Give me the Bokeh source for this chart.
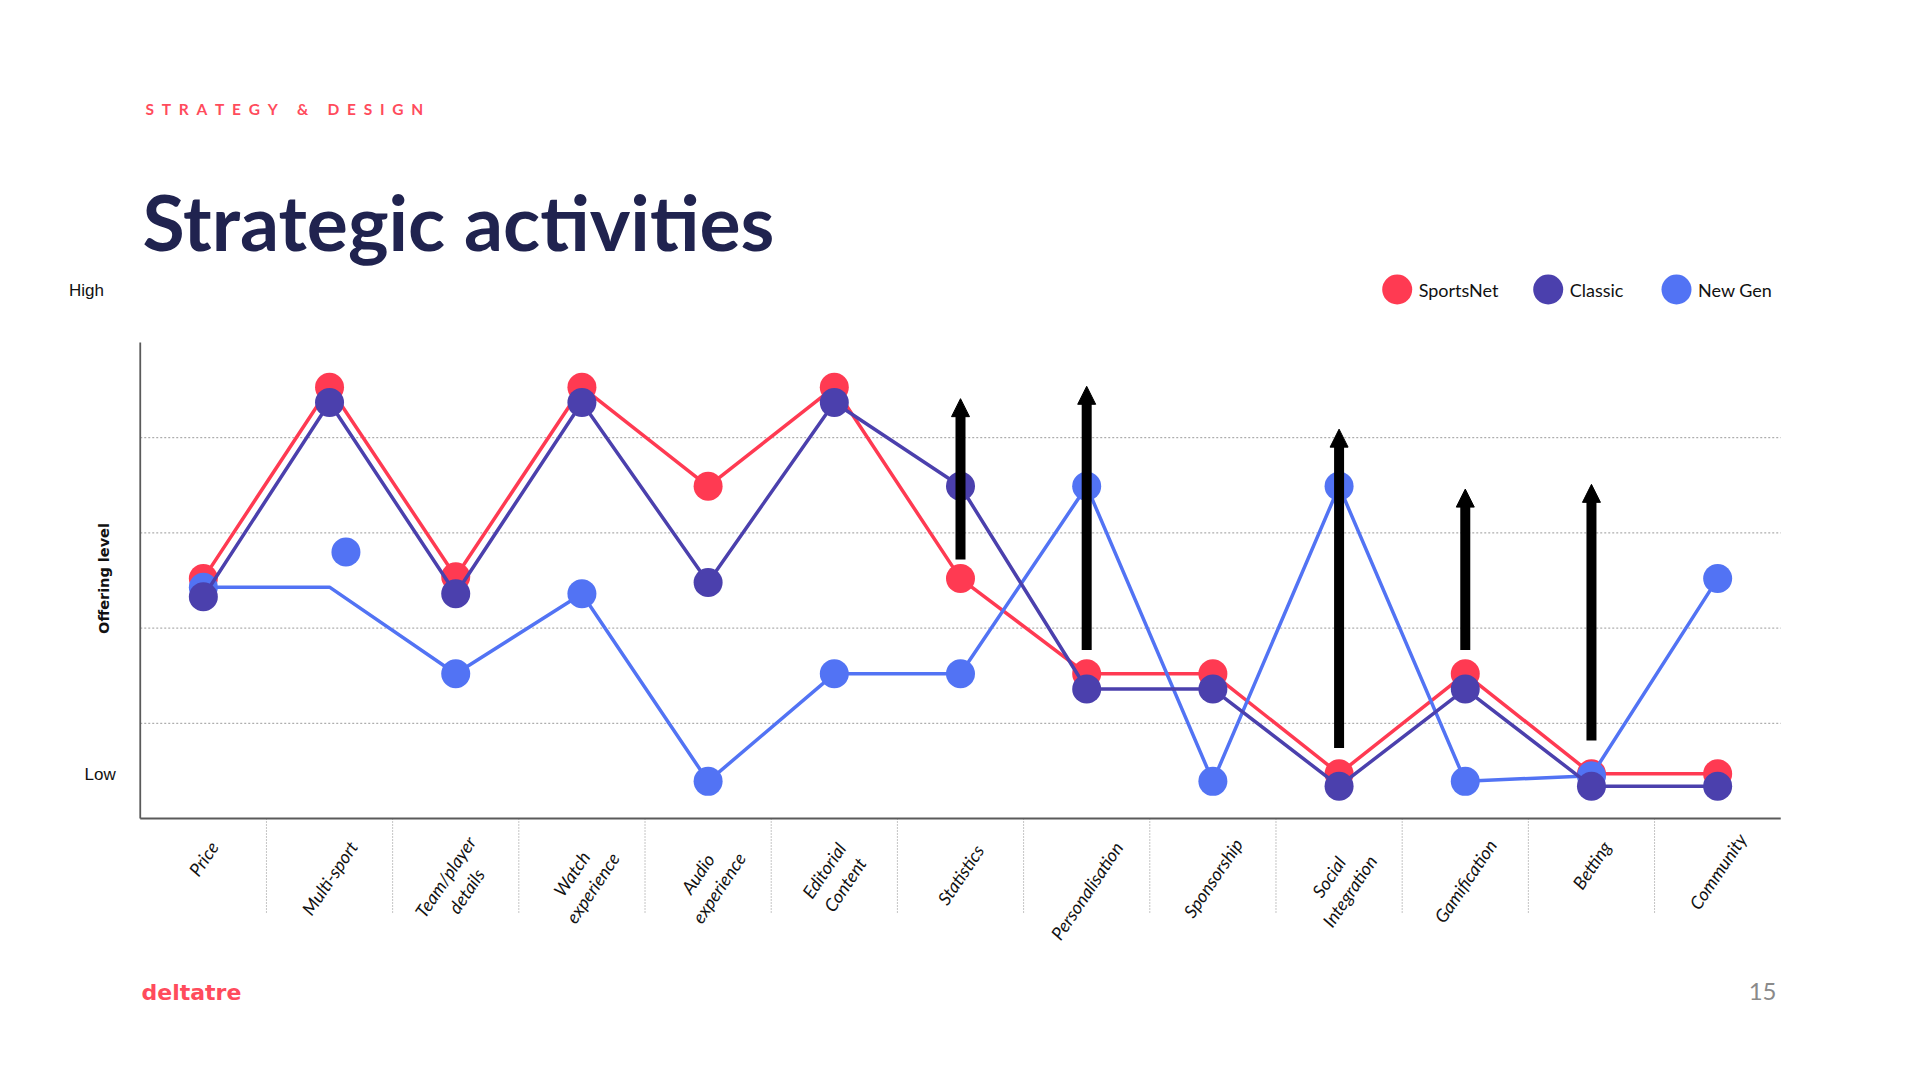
import math
from bokeh.plotting import figure
from bokeh.models import FactorRange, Range1d, Arrow, NormalHead, Grid
from bokeh.core.properties import value
from bokeh.embed import file_html
from bokeh.resources import INLINE

# ---------------- data ----------------
categories = ["Price", "Multi-sport", "Team/player details", "Watch experience",
              "Audio experience", "Editorial Content", "Statistics", "Personalisation",
              "Sponsorship", "Social Integration", "Gamification", "Betting", "Community"]
tick_labels = ["Price", "Multi-sport", "Team/player\ndetails", "Watch\nexperience",
               "Audio\nexperience", "Editorial\nContent", "Statistics", "Personalisation",
               "Sponsorship", "Social\nIntegration", "Gamification", "Betting", "Community"]

sportsnet = [2.52, 4.53, 2.54, 4.53, 3.49, 4.53, 2.52, 1.52, 1.52, 0.47, 1.52, 0.47, 0.47]
classic   = [2.33, 4.37, 2.36, 4.37, 2.48, 4.37, 3.49, 1.36, 1.36, 0.34, 1.36, 0.34, 0.34]
newgen    = [2.43, 2.43, 1.52, 2.36, 0.39, 1.52, 1.52, 3.49, 0.39, 3.49, 0.39, 0.45, 2.52]
newgen_no_marker = ["Multi-sport"]
newgen_extra_category = "Multi-sport"
newgen_extra_value = 2.80

arrow_categories = ["Statistics", "Personalisation", "Social Integration", "Gamification", "Betting"]
arrow_from = [2.72, 1.77, 0.74, 1.77, 0.82]
arrow_to   = [4.41, 4.54, 4.09, 3.46, 3.51]

series_names = ["SportsNet", "Classic", "New Gen"]
series_colors = ["#FF3A52", "#4B40AD", "#5273F4"]

y_low_label, y_high_label = "Low", "High"
y_title = "Offering level"
kicker = "STRATEGY & DESIGN"
title = "Strategic activities"
brand = "deltatre"
page_no = "15"

# ---------------- layout helpers ----------------
W, H = 1920, 1080
PAD = 1.1074                      # categorical padding (bands) each side
PXU = W / (len(categories) + 2 * PAD)
Y0_PX, PYU = 818.0, 95.2          # pixel row of level 0 and pixels per level


def sx(px):
    return px / PXU - PAD


def sy(py):
    return (Y0_PX - py) / PYU


FONT = value("Lato")

p = figure(width=W, height=H,
           x_range=FactorRange(factors=categories, range_padding=PAD, range_padding_units="absolute"),
           y_range=Range1d(sy(H), sy(0)),
           min_border=0, x_axis_location=None, y_axis_location=None,
           toolbar_location=None, output_backend="svg")
p.outline_line_color = None
p.background_fill_color = "white"
p.border_fill_color = "white"
for r in p.center:
    if isinstance(r, Grid):
        r.visible = False

n = len(categories)
# grid lines (dotted)
levels = [1, 2, 3, 4]
p.segment(x0=[0] * len(levels), x1=[n] * len(levels), y0=levels, y1=levels,
          line_color="#9a9a9a", line_width=1, line_dash="2 2")
# category separators below axis
seps = list(range(1, n))
p.segment(x0=seps, x1=seps, y0=[0] * len(seps), y1=[-1] * len(seps),
          line_color="#8a8a8a", line_width=1, line_dash="1 2")
# axis lines
p.segment(x0=[0, 0], x1=[0, n], y0=[0, 0], y1=[5, 0], line_color="#5a5a5a", line_width=1.8)

# series
SN, CL, NG = series_colors
p.line(categories, sportsnet, line_color=SN, line_width=3.5)
p.scatter(categories, sportsnet, size=29, fill_color=SN, line_color=None)

ng_x = [c for c in categories if c not in newgen_no_marker]
ng_y = [v for c, v in zip(categories, newgen) if c not in newgen_no_marker]
p.line(categories, newgen, line_color=NG, line_width=3.5)
p.scatter(ng_x, ng_y, size=29, fill_color=NG, line_color=None)
p.scatter([categories.index(newgen_extra_category) + 0.5 + 0.13], [newgen_extra_value],
          size=29, fill_color=NG, line_color=None)

p.line(categories, classic, line_color=CL, line_width=3.5)
p.scatter(categories, classic, size=29, fill_color=CL, line_color=None)

# arrows
head_len = 18 / PYU
ax = [categories.index(c) + 0.5 for c in arrow_categories]
p.segment(x0=ax, x1=ax, y0=arrow_from, y1=[t - head_len + 0.02 for t in arrow_to],
          line_color="black", line_width=10)
for x, t in zip(ax, arrow_to):
    p.add_layout(Arrow(end=NormalHead(size=18, fill_color="black", line_color="black", line_width=1),
                       x_start=x, y_start=t - head_len, x_end=x, y_end=t,
                       line_alpha=0, line_width=1))

# category tick labels (rotated)
theta = math.radians(56)
fs = 18
lab_y = []
for lab in tick_labels:
    lines = lab.split("\n")
    L = max(len(s) for s in lines) * 0.43 * fs
    Hh = len(lines) * 1.2 * fs
    lab_y.append(sy(836 + L / 2 * math.sin(theta) + Hh / 2 * math.cos(theta)))
p.text(x=categories, y=lab_y, text=tick_labels, angle=theta,
       text_align="center", text_baseline="middle", text_font=FONT,
       text_font_style="italic", text_font_size=f"{fs}px", text_color="#111111",
       text_line_height=1.15)

# y-axis texts
p.text(x=[sx(103)], y=[sy(578)], text=[y_title], angle=math.pi / 2,
       text_align="center", text_baseline="middle", text_font=value("DejaVu Sans"),
       text_font_style="bold", text_font_size="14.5px", text_color="#111111")
p.text(x=[sx(68.5)], y=[sy(290)], text=[y_high_label], text_align="left",
       text_baseline="middle", text_font=value("Liberation Sans"),
       text_font_size="17px", text_color="#111111")
p.text(x=[sx(84)], y=[sy(774)], text=[y_low_label], text_align="left",
       text_baseline="middle", text_font=value("Liberation Sans"),
       text_font_size="17px", text_color="#111111")

# legend
leg_dot_px = [1396.7, 1547.7, 1676.0]
p.scatter([sx(v) for v in leg_dot_px], [sy(289)] * 3, size=30, fill_color=series_colors, line_color=None)
p.text(x=[sx(v + 21.5) for v in leg_dot_px], y=[sy(289)] * 3, text=series_names,
       text_align="left", text_baseline="middle", text_font=FONT,
       text_font_size="18px", text_color="#111111")

# slide texts
spaced = "\u2002".join(kicker).replace("\u2002 \u2002", "\u2002\u2002 ")
p.text(x=[sx(145)], y=[sy(108.5)], text=[spaced], text_align="left", text_baseline="middle",
       text_font=FONT, text_font_style="bold", text_font_size="15.5px", text_color="#FF4B5C")
p.text(x=[sx(142)], y=[sy(220.5)], text=[title], text_align="left", text_baseline="middle",
       text_font=FONT, text_font_style="bold", text_font_size="77px", text_color="#20234F")
p.text(x=[sx(141)], y=[sy(992)], text=[brand], text_align="left", text_baseline="middle",
       text_font=value("DejaVu Sans"), text_font_style="bold", text_font_size="22px",
       text_color="#FF4B5C")
p.text(x=[sx(1776)], y=[sy(990.5)], text=[page_no], text_align="right", text_baseline="middle",
       text_font=FONT, text_font_size="24px", text_color="#8a8a8a")

open("out.html", "w").write(file_html(p, INLINE))
